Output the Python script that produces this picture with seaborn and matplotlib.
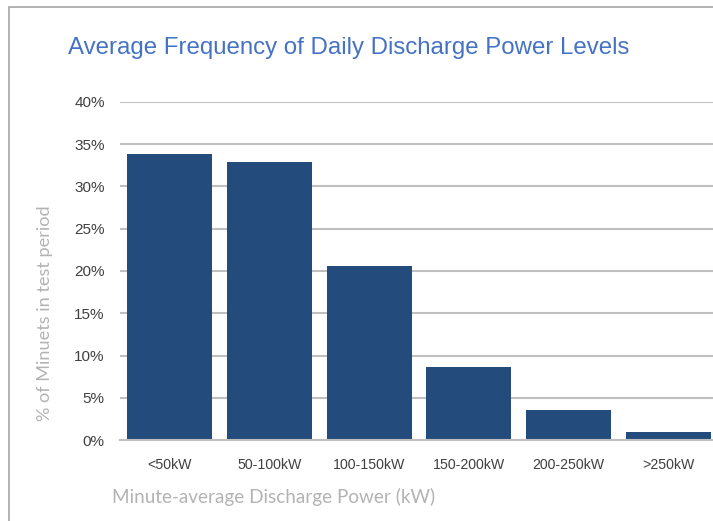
import matplotlib
matplotlib.use("Agg")
import matplotlib.pyplot as plt
import seaborn as sns
import pandas as pd
from matplotlib.patches import Rectangle
from matplotlib.ticker import FuncFormatter

categories = ["<50kW", "50-100kW", "100-150kW", "150-200kW", "200-250kW", ">250kW"]
share_pct = [33.8, 32.9, 20.6, 8.6, 3.5, 1.0]
y_ticks = [0, 5, 10, 15, 20, 25, 30, 35, 40]

df = pd.DataFrame({"power": categories, "share": share_pct})

sns.set_style("white")
plt.rcParams["font.family"] = ["Liberation Sans", "DejaVu Sans"]

fig = plt.figure(figsize=(7.13, 5.21), dpi=100)
W, H = 713, 521
# axes runs off the right edge, as in the cropped reference
ax = fig.add_axes([120 / W, 1 - 440 / H, 598 / W, 338 / H])

sns.barplot(data=df, x="power", y="share", color="#234C7C", width=0.85,
            saturation=1, linewidth=0, ax=ax, zorder=3)

ax.set_ylim(0, 40)
ax.set_xlim(-0.5, 5.5)
ax.set_yticks(y_ticks)
ax.yaxis.set_major_formatter(FuncFormatter(lambda v, p: f"{v:.0f}%"))
ax.grid(axis="y", color="#BFBFBF", linewidth=1.5, zorder=0)
ax.grid(axis="x", visible=False)
for s in ["top", "right", "left"]:
    ax.spines[s].set_visible(False)
ax.spines["bottom"].set_color("#BFBFBF")
ax.spines["bottom"].set_linewidth(1.5)
ax.spines["bottom"].set_zorder(4)
ax.tick_params(axis="y", length=0, pad=11, labelsize=11, labelcolor="#404040")
ax.tick_params(axis="x", length=0, pad=13, labelsize=10.2, labelcolor="#404040")
ax.set_xlabel("")
ax.set_ylabel("")

fig.text(68 / W, 1 - 48 / H, "Average Frequency of Daily Discharge Power Levels",
         fontsize=17.3, color="#4472C4", va="center", ha="left")
fig.text(45 / W, 1 - 313 / H, "% of Minuets in test period", rotation=90,
         fontsize=13.1, color="#B3B3B3", va="center", ha="center",
         family=["Lato", "DejaVu Sans"])
fig.text(112 / W, 1 - 497 / H, "Minute-average Discharge Power (kW)",
         fontsize=13.6, color="#B3B3B3", va="center", ha="left",
         family=["Lato", "DejaVu Sans"])

# outer frame line visible at top and left
fig.patches.append(Rectangle((9 / W, -0.1), 1.2, 1 - 7 / H + 0.1,
                             transform=fig.transFigure, fill=False,
                             edgecolor="#A6A6A6", linewidth=1.2))

fig.savefig("out.png", dpi=100)
